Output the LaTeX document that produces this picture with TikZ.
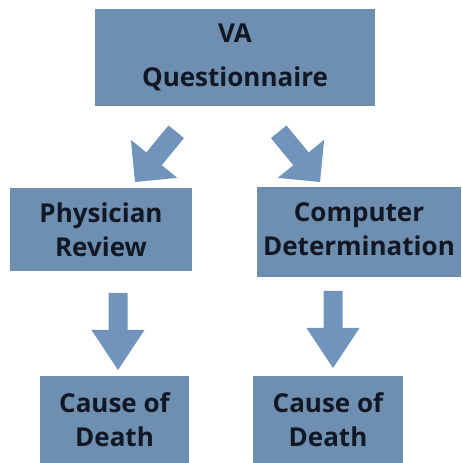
\documentclass[tikz,border=0pt]{standalone}
\usepackage{fontspec}
\setmainfont{Open Sans}
\definecolor{boxfill}{RGB}{111,143,176}
\definecolor{arrowfill}{RGB}{112,148,188}
\definecolor{textcol}{RGB}{16,24,38}
\newcommand{\myblockarrow}[6]{%
  \fill[arrowfill,shift={(#1)},rotate=#2] (0,0) -- (-#6,#5/2) -- (-#6,#4/2) -- (-#3,#4/2) -- (-#3,-#4/2) -- (-#6,-#4/2) -- (-#6,-#5/2) -- cycle;}
\begin{document}
\begin{tikzpicture}[x=1pt,y=1pt,
  box/.style={fill=boxfill,inner sep=0pt,align=center,text=textcol,font=\bfseries\fontsize{26}{34}\selectfont}]
\useasboundingbox (0,0) rectangle (461,463);
\fill[white] (0,0) rectangle (461,463);
\node[box,minimum width=280pt,minimum height=97pt,font=\bfseries\fontsize{26}{44}\selectfont] (va) at (235,405.5) {VA\\Questionnaire};
\node[box,minimum width=182pt,minimum height=83pt] (phys) at (101,233.5) {Physician\\Review};
\node[box,minimum width=204pt,minimum height=90pt] (comp) at (359,231) {};
\node[align=center,text=textcol,inner sep=0pt,font=\bfseries\fontsize{26}{34}\selectfont] (comptext) at ([yshift=3pt]comp.center) {Computer\\Determination};
\node[box,minimum width=149pt,minimum height=87pt] (cl) at (114.5,43.5) {Cause of\\Death};
\node[box,minimum width=150pt,minimum height=87pt] (cr) at (328,43.5) {Cause of\\Death};
\coordinate (tipdl) at (135,281);
\coordinate (tipdr) at (320,281);
\coordinate (tipl) at (118,93);
\coordinate (tipr) at (333,95);
\myblockarrow{tipdl}{230.6}{65}{20}{60}{30}
\myblockarrow{tipdr}{309.4}{65}{20}{60}{30}
\myblockarrow{tipl}{270}{77}{19}{53}{40}
\myblockarrow{tipr}{270}{77}{19}{53}{40}
\end{tikzpicture}
\end{document}
